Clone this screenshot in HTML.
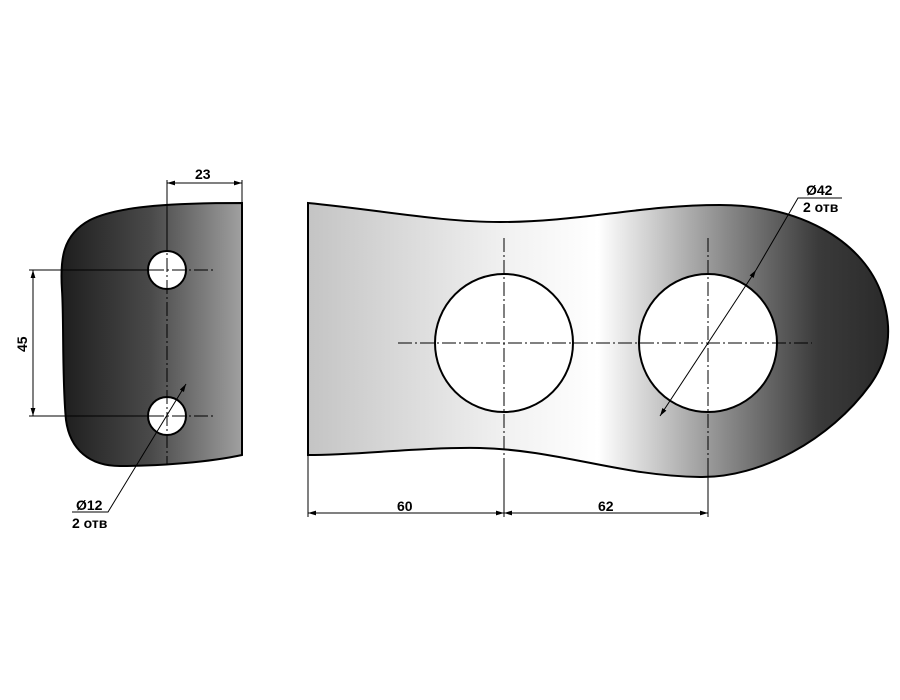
<!DOCTYPE html>
<html><head><meta charset="utf-8"><style>
html,body{margin:0;padding:0;background:#fff;width:900px;height:700px;overflow:hidden}
text{font-family:"Liberation Sans",sans-serif;font-weight:bold;font-size:14px;fill:#000}
</style></head><body>
<svg width="900" height="700" viewBox="0 0 900 700">
<defs>
<linearGradient id="gl" x1="0" x2="1" y1="0" y2="0">
<stop offset="0" stop-color="#1e1e1e"/><stop offset="0.5" stop-color="#4a4a4a"/><stop offset="1" stop-color="#a0a0a0"/>
</linearGradient>
<linearGradient id="gr" x1="0" x2="1" y1="0" y2="0">
<stop offset="0" stop-color="#c4c4c4"/><stop offset="0.35" stop-color="#f2f2f2"/><stop offset="0.5" stop-color="#ffffff"/><stop offset="0.72" stop-color="#8a8a8a"/><stop offset="0.88" stop-color="#3a3a3a"/><stop offset="1" stop-color="#2a2a2a"/>
</linearGradient>
<marker id="ar" viewBox="0 0 10 10" refX="10" refY="5" markerWidth="8" markerHeight="8" orient="auto-start-reverse"><path d="M0,2 L10,5 L0,8 z" fill="#000"/></marker>
</defs>

<g>
<path d="M242,203 C180,203 120,205 90,220 C62,235 60,260 62,290 C64,320 62,380 66,420 C70,450 90,466 120,466 C160,466 210,462 242,455 Z" fill="url(#gl)" stroke="#000" stroke-width="2"/>
<circle cx="167" cy="270" r="19" fill="#fff" stroke="#000" stroke-width="2"/>
<circle cx="167" cy="416" r="19" fill="#fff" stroke="#000" stroke-width="2"/>
<g stroke="#000" stroke-width="1" stroke-dasharray="14,3,2,3" fill="none">
<line x1="128" y1="270" x2="215" y2="270"/><line x1="128" y1="416" x2="215" y2="416"/>
<line x1="167" y1="236" x2="167" y2="465"/>
</g>
<g stroke="#000" stroke-width="1" fill="none">
<line x1="167" y1="180" x2="167" y2="236"/>
<line x1="242" y1="180" x2="242" y2="203"/>
<line x1="167" y1="183" x2="242" y2="183" marker-start="url(#ar)" marker-end="url(#ar)"/>
<line x1="29" y1="270" x2="150" y2="270"/><line x1="29" y1="416" x2="150" y2="416"/>
<line x1="33" y1="270" x2="33" y2="416" marker-start="url(#ar)" marker-end="url(#ar)"/>
<polyline points="186,384 108,512 72,512" marker-start="url(#ar)"/>
</g>
<text x="195" y="179">23</text>
<text x="0" y="0" transform="translate(27,352) rotate(-90)">45</text>
<text x="76" y="510">Ø12</text>
<text x="72" y="528">2 отв</text>
</g>

<g>
<path d="M308,203 C380,210 440,222 500,222 C580,222 640,205 720,205 C800,205 860,240 880,290 C895,330 888,360 870,385 C830,440 760,478 700,477 C620,476 560,450 480,448 C420,447 360,455 308,455 Z" fill="url(#gr)" stroke="#000" stroke-width="2"/>
<circle cx="504" cy="343" r="69" fill="#fff" stroke="#000" stroke-width="2"/>
<circle cx="708" cy="343" r="69" fill="#fff" stroke="#000" stroke-width="2"/>
<g stroke="#000" stroke-width="1" stroke-dasharray="14,3,2,3" fill="none">
<line x1="398" y1="343" x2="812" y2="343"/>
<line x1="504" y1="238" x2="504" y2="460"/><line x1="708" y1="238" x2="708" y2="460"/>
</g>
<g stroke="#000" stroke-width="1" fill="none">
<line x1="308" y1="455" x2="308" y2="517"/>
<line x1="504" y1="460" x2="504" y2="517"/>
<line x1="708" y1="460" x2="708" y2="517"/>
<line x1="308" y1="513" x2="504" y2="513" marker-start="url(#ar)" marker-end="url(#ar)"/>
<line x1="504" y1="513" x2="708" y2="513" marker-start="url(#ar)" marker-end="url(#ar)"/>
<line x1="660" y1="416" x2="756" y2="270" marker-start="url(#ar)" marker-end="url(#ar)"/>
<polyline points="756,270 798,198 842,198"/>
</g>
<text x="397" y="511">60</text>
<text x="598" y="511">62</text>
<text x="806" y="195">Ø42</text>
<text x="803" y="212">2 отв</text>
</g>
</svg>
</body></html>
